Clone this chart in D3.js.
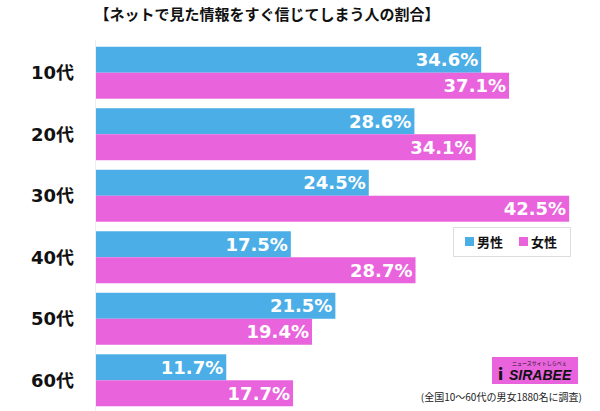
<!DOCTYPE html>
<html><head><meta charset="utf-8">
<script src="https://cdn.jsdelivr.net/npm/d3@7"></script>
<style>body{margin:0;background:#fff}svg{display:block}</style>
</head><body><svg id="c" width="600" height="411"></svg>
<script>
const title = "【ネットで見た情報をすぐ信じてしまう人の割合】";
const categories = ["10代","20代","30代","40代","50代","60代"];
const seriesNames = ["男性","女性"];
const male = [34.6,28.6,24.5,17.5,21.5,11.7];
const female = [37.1,34.1,42.5,28.7,19.4,17.7];
const colors = ["#4caee6","#e963dd"];
const note = "(全国10〜60代の男女1880名に調査)";

const svg = d3.select("#c");
const font = "'Noto Sans CJK JP','Noto Sans',sans-serif";
const numFont = "'DejaVu Sans','Noto Sans CJK JP',sans-serif";
const x = d3.scaleLinear().domain([0,45]).range([96,597]);
const y = d3.scaleBand().domain(categories).range([41.5,411.5]).paddingInner(0.155).paddingOuter(0.085);
const sub = d3.scaleBand().domain([0,1]).range([0,y.bandwidth()]);

svg.append("text").attr("x",267).attr("y",20).attr("text-anchor","middle")
  .attr("font-family",font).attr("font-weight","bold").attr("font-size",15).attr("fill","#111").text(title);

svg.append("line").attr("x1",95.5).attr("x2",95.5).attr("y1",40).attr("y2",411).attr("stroke","#eee");

const data = categories.map((c,i)=>({c,v:[male[i],female[i]]}));
const g = svg.selectAll("g.grp").data(data).join("g").attr("transform",d=>`translate(0,${y(d.c)})`);
g.selectAll("rect").data(d=>d.v).join("rect")
  .attr("x",x(0)).attr("y",(d,i)=>sub(i)).attr("width",d=>x(d)-x(0)).attr("height",sub.bandwidth())
  .attr("fill",(d,i)=>colors[i]);
g.selectAll("text.val").data(d=>d.v).join("text").attr("class","val")
  .attr("x",d=>x(d)-3).attr("y",(d,i)=>sub(i)+sub.bandwidth()/2+6.5).attr("text-anchor","end")
  .attr("font-family",numFont).attr("font-weight","bold").attr("font-size",18).attr("fill","#fff")
  .text(d=>d.toFixed(1)+"%");
g.append("text").attr("x",74).attr("y",y.bandwidth()/2+6.5).attr("text-anchor","end")
  .attr("font-family",numFont).attr("font-weight","bold").attr("font-size",18).attr("fill","#111").text(d=>d.c);

// legend
const lg = svg.append("g");
lg.append("rect").attr("x",453.5).attr("y",227.5).attr("width",117).attr("height",29).attr("fill","#fff").attr("stroke","#ddd");
seriesNames.forEach((n,i)=>{
  const lx = 465 + i*54;
  lg.append("rect").attr("x",lx).attr("y",237).attr("width",9).attr("height",9).attr("fill",colors[i]);
  lg.append("text").attr("x",lx+12).attr("y",247).attr("font-family",font).attr("font-weight","bold").attr("font-size",13).attr("fill","#111").text(n);
});

// logo
svg.append("rect").attr("x",492).attr("y",357).attr("width",86).attr("height",27).attr("fill","#e963dd");
svg.append("text").attr("x",512).attr("y",365).attr("font-family",font).attr("font-size",5).attr("fill","#111").text("ニュースサイトしらべぇ");
svg.append("text").attr("x",498).attr("y",380).attr("font-family",font).attr("font-weight","900").attr("font-size",16).attr("fill","#111").text("i");
svg.append("text").attr("x",509).attr("y",380).attr("font-family","'Liberation Sans',sans-serif").attr("font-weight","bold").attr("font-style","italic").attr("font-size",14).attr("fill","#111").text("SIRABEE");
svg.append("text").attr("x",582).attr("y",401).attr("text-anchor","end").attr("font-family",font).attr("font-size",10).attr("fill","#222").text(note);
</script></body></html>
